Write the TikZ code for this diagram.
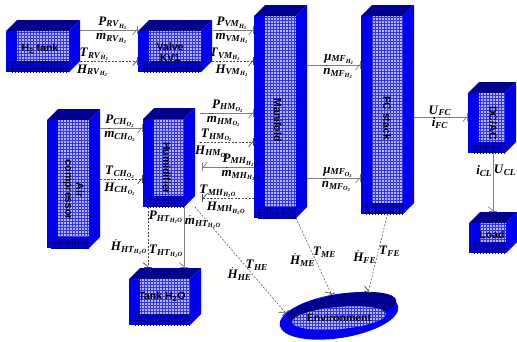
\documentclass[tikz,border=0pt]{standalone}
\usepackage{fontspec}
\setmainfont{Liberation Serif}
\setsansfont{Liberation Sans}
\usetikzlibrary{shapes.geometric,arrows.meta,calc,patterns}
\definecolor{boxblue}{HTML}{0000F0}
\definecolor{boxnavy}{HTML}{00008E}
\definecolor{wire}{HTML}{7F7F7F}
\definecolor{wiredash}{HTML}{4A4A4A}

% grid for the checked panels
\pgfdeclarepatternformonly{checks}{\pgfqpoint{-0.5pt}{-0.5pt}}{\pgfqpoint{3.5pt}{3.5pt}}{\pgfqpoint{3pt}{3pt}}{%
  \pgfsetlinewidth{0.9pt}%
  \pgfpathmoveto{\pgfqpoint{0pt}{-0.5pt}}\pgfpathlineto{\pgfqpoint{0pt}{3.5pt}}%
  \pgfpathmoveto{\pgfqpoint{-0.5pt}{0pt}}\pgfpathlineto{\pgfqpoint{3.5pt}{0pt}}%
  \pgfusepath{stroke}}

% quantity labels
\newcommand{\qv}[3]{\textbf{\textit{#1}}\textsubscript{\textbf{\textit{#2}}\textsubscript{\textbf{\textit{#3}}}}}
\newcommand{\qs}[2]{\textbf{\textit{#1}}\textsubscript{\textbf{\textit{#2}}}}
\newcommand{\dotq}[1]{$\dot{\mbox{#1}}$}
\newcommand{\Hii}{H\textsubscript{2}}
\newcommand{\Oii}{O\textsubscript{2}}
\newcommand{\HiiO}{H\textsubscript{2}O}

% faces of a block, drawn inside its node
\newcommand{\drawcube}{%
  \fill[boxblue] (path picture bounding box.south west) rectangle ([shift={(-11pt,-11pt)}]path picture bounding box.north east);
  \fill[boxnavy] ([yshift=-11pt]path picture bounding box.north west) -- ([xshift=11pt]path picture bounding box.north west)
    -- (path picture bounding box.north east) -- ([shift={(-11pt,-11pt)}]path picture bounding box.north east) -- cycle;
  \fill[boxblue] ([shift={(-11pt,-11pt)}]path picture bounding box.north east) -- (path picture bounding box.north east)
    -- ([yshift=11pt]path picture bounding box.south east) -- ([xshift=-11pt]path picture bounding box.south east) -- cycle;
  \fill[blue!28] ([shift={(11pt,11pt)}]path picture bounding box.south west) rectangle ([shift={(-11pt,-11pt)}]path picture bounding box.north east);
  \fill[pattern=checks, pattern color=boxblue!80] ([shift={(11pt,11pt)}]path picture bounding box.south west) rectangle ([shift={(-11pt,-11pt)}]path picture bounding box.north east);
  \fill[pattern=checks, pattern color=boxblue!55!black] ([xshift=4pt]path picture bounding box.south west) rectangle ([shift={(-11pt,11pt)}]path picture bounding box.south east);
}

\begin{document}
\begin{tikzpicture}[x=1pt, y=-1pt,
  cubebox/.style 2 args={rectangle, fill=white, minimum width=#1, minimum height=#2, inner sep=0pt, outer sep=0pt, path picture={\drawcube}},
  unittext/.style={font=\sffamily\bfseries\fontsize{10.5}{11}\selectfont, align=center, inner sep=0pt},
  envdisc/.style={ellipse, fill=boxblue, minimum width=120pt, minimum height=44pt, inner sep=0pt, rotate=9},
  sig/.style={font=\fontsize{13}{14}\selectfont, inner sep=0.5pt},
  flow/.style={draw=wire, line width=0.9pt, -{Straight Barb[harpoon,swap,length=4pt,width=10pt,line width=0.7pt]Bar[width=8pt,line width=0.7pt]}},
  dflow/.style={flow, draw=wiredash, line width=0.5pt, dash pattern=on 2pt off 1.5pt}
]
  \useasboundingbox (0,0) rectangle (517,341);

  % blocks
  \node[cubebox={74pt}{52pt}]  (h2tank)   at (43,46)       {};
  \node[cubebox={74pt}{52pt}]  (valve)    at (175,46)      {};
  \node[cubebox={53pt}{213pt}] (manifold) at (280.5,111.5) {};
  \node[cubebox={53pt}{209pt}] (fcstack)  at (387.5,109.5) {};
  \node[cubebox={52pt}{99pt}]  (humid)    at (169,157.5)   {};
  \node[cubebox={53pt}{139pt}] (aircomp)  at (73.5,178.5)  {};
  \node[cubebox={72pt}{57pt}]  (tankw)    at (165,296.5)   {};
  \node[cubebox={48pt}{71pt}]  (dcac)     at (492,117.5)   {};
  \node[cubebox={48pt}{41pt}]  (load)     at (493,232.5)   {};

  \node[unittext]             (h2tank-t)   at (40,49)    {\Hii{} tank};
  \node[unittext]             (valve-t)    at (170,52)   {Valve\\KV1};
  \node[unittext, rotate=-90] (manifold-t) at (278,120)  {Manifold};
  \node[unittext, rotate=-90] (fcstack-t)  at (387,118)  {FC stack};
  \node[unittext, rotate=-90] (humid-t)    at (167,168)  {Humidifier};
  \node[unittext, rotate=-90] (aircomp-t)  at (73.5,190) {Air\\compressor};
  \node[unittext]             (tankw-t)    at (162,297)  {Tank \HiiO};
  \node[unittext, rotate=-90] (dcac-t)     at (493,123)  {DC/AC};
  \node[unittext]             (load-t)     at (492,235)  {Load};

  % environment
  \node[envdisc] (env) at (339,316) {};
  \begin{scope}[shift={(342,309)}, rotate=9]
    \fill[boxnavy] (0,0) ellipse [x radius=55pt, y radius=15pt];
  \end{scope}
  \begin{scope}[shift={(339,318)}, rotate=5]
    \fill[blue!28] (0,0) ellipse [x radius=47pt, y radius=11pt];
    \fill[pattern=checks, pattern color=boxblue!80] (0,0) ellipse [x radius=47pt, y radius=11pt];
  \end{scope}
  \node[unittext] (env-t) at (339,318) {Environment};

  % hydrogen side
  \draw[flow] (h2tank.east |- 0,30) -- (valve.west |- 0,30)
    node[sig, above, pos=.57] (p-rv) {\qv{P}{RV}{\Hii}}
    node[sig, below, pos=.55] (m-rv) {\qv{\dotq{m}}{RV}{\Hii}};
  \draw[dflow] (h2tank.east |- 0,61) -- (valve.west |- 0,61)
    node[sig, above, pos=.25] (t-rv) {\qv{T}{RV}{\Hii}}
    node[sig, below, pos=.22] (h-rv) {\qv{\dotq{H}}{RV}{\Hii}};
  \draw[flow] (valve.east |- 0,30) -- (manifold.west |- 0,30)
    node[sig, above, pos=.48] (p-vm) {\qv{P}{VM}{\Hii}}
    node[sig, below, pos=.48] (m-vm) {\qv{\dotq{m}}{VM}{\Hii}};
  \draw[dflow] (valve.east |- 0,61) -- (manifold.west |- 0,61)
    node[sig, above, pos=.32] (t-vm) {\qv{T}{VM}{\Hii}}
    node[sig, below, pos=.48] (h-vm) {\qv{\dotq{H}}{VM}{\Hii}};

  % manifold to stack, stack to load
  \draw[flow] (manifold.east |- 0,65) -- (fcstack.west |- 0,65)
    node[sig, above, pos=.6]  (u-mfh) {\qv{μ}{MF}{\Hii}}
    node[sig, below, pos=.58] (n-mfh) {\qv{\dotq{n}}{MF}{\Hii}};
  \draw[flow] (manifold.east |- 0,178) -- (fcstack.west |- 0,178)
    node[sig, above, pos=.58] (u-mfo) {\qv{μ}{MF}{\Oii}}
    node[sig, below, pos=.55] (n-mfo) {\qv{\dotq{n}}{MF}{\Oii}};
  \draw[flow] (fcstack.east |- 0,117) -- (dcac.west |- 0,117)
    node[sig, above, pos=.48] (u-fc) {\qs{U}{FC}}
    node[sig, below, pos=.48] (i-fc) {\qs{i}{FC}};
  \draw[flow] (dcac.south -| load.north) -- (load.north)
    node[sig, left, pos=.3]  (i-cl) {\qs{i}{CL}}
    node[sig, right, pos=.3] (u-cl) {\qs{U}{CL}};

  % oxygen side
  \draw[flow] (aircomp.east |- 0,128) -- (humid.west |- 0,128)
    node[sig, above, pos=.47] (p-ch) {\qv{P}{CH}{\Oii}}
    node[sig, below, pos=.47] (m-ch) {\qv{\dotq{m}}{CH}{\Oii}};
  \draw[dflow] (aircomp.east |- 0,179) -- (humid.west |- 0,179)
    node[sig, above, pos=.47] (t-ch) {\qv{T}{CH}{\Oii}}
    node[sig, below, pos=.47] (h-ch) {\qv{\dotq{H}}{CH}{\Oii}};
  \draw[flow, shorten <=5pt] (humid.east |- 0,113) -- (manifold.west |- 0,113)
    node[sig, above, pos=.56] (p-hm) {\qv{P}{HM}{\Oii}}
    node[sig, below, pos=.49] (m-hm) {\qv{\dotq{m}}{HM}{\Oii}};
  \draw[dflow, shorten <=5pt] (humid.east |- 0,142) -- (manifold.west |- 0,142)
    node[sig, above, pos=.37] (t-hm) {\qv{T}{HM}{\Oii}}
    node[sig, below, pos=.29] (h-hm) {\qv{\dotq{H}}{HM}{\Oii}};
  \draw[flow, shorten >=7pt] (manifold.west |- 0,167) -- (humid.east |- 0,167)
    node[sig, above, pos=.22] (p-mh) {\qv{P}{MH}{\HiiO}}
    node[sig, below, pos=.22] (m-mh) {\qv{\dotq{m}}{MH}{\HiiO}};
  \draw[dflow, shorten >=7pt] (manifold.west |- 0,198) -- (humid.east |- 0,198)
    node[sig, above, pos=.61] (t-mh) {\qv{T}{MH}{\HiiO}}
    node[sig, below, pos=.47] (h-mh) {\qv{\dotq{H}}{MH}{\HiiO}};

  % water tank
  \draw[flow] (humid.south -| 184,0) -- (tankw.north -| 184,0)
    node[sig, left, pos=.17]  (p-ht) {\qv{P}{HT}{\HiiO}}
    node[sig, right, pos=.25] (m-ht) {\qv{\dotq{m}}{HT}{\HiiO}};
  \draw[dflow] (humid.south -| 148,0) -- (tankw.north -| 148,0)
    node[sig, left, pos=.66]  (h-ht) {\qv{\dotq{H}}{HT}{\HiiO}}
    node[sig, right, pos=.72] (t-ht) {\qv{T}{HT}{\HiiO}};

  % losses to the environment
  \draw[dflow] (humid.south east) -- (env.168)
    node[sig, left, pos=.63]  (h-he) {\qs{\dotq{H}}{HE}}
    node[sig, right, pos=.55] (t-he) {\qs{T}{HE}};
  \draw[dflow] ([xshift=-11pt]manifold.south east) -- (env.100)
    node[sig, left, pos=.55]  (h-me) {\qs{\dotq{H}}{ME}}
    node[sig, right, pos=.45] (t-me) {\qs{T}{ME}};
  \draw[dflow] (fcstack.south) -- (env.30)
    node[sig, left, pos=.55]  (h-fe) {\qs{\dotq{H}}{FE}}
    node[sig, right, pos=.47] (t-fe) {\qs{T}{FE}};
\end{tikzpicture}
\end{document}
